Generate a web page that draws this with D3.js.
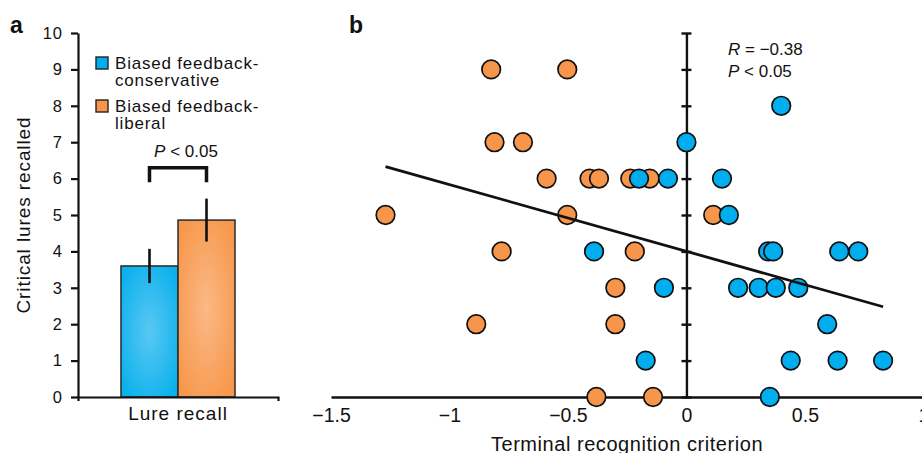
<!DOCTYPE html>
<html>
<head>
<meta charset="utf-8">
<script src="https://cdn.jsdelivr.net/npm/d3@7"></script>
<style>
  body { margin: 0; background: #fff; }
  svg { display: block; font-family: "Liberation Sans", Arial, sans-serif; }
  text { fill: #111; }
</style>
</head>
<body>
<div id="main-content"></div>
<script>
// panel a: bar chart
const barCats = ["Lure recall"];
const barGroups = ["Biased feedback-conservative", "Biased feedback-liberal"];
const barMeans = [3.6, 4.86];
const barSem = [0.47, 0.59];

// panel b: scatter, terminal criterion vs lures recalled
const consX = [-0.2, -0.078, 0.15, 0.0, 0.40, 0.179, -0.39, 0.345, 0.366, 0.645, 0.725,
  -0.095, 0.218, 0.305, 0.377, 0.472, 0.594, -0.172, 0.44, 0.638, 0.83, 0.352];
const consY = [6, 6, 6, 7, 8, 5, 4, 4, 4, 4, 4, 3, 3, 3, 3, 3, 2, 1, 1, 1, 1, 0];
const libX = [-0.824, -0.503, -0.81, -0.69, -0.59, -0.409, -0.369, -0.237, -0.155, -1.27,
  -0.503, 0.113, -0.78, -0.218, -0.30, -0.887, -0.30, -0.38, -0.141];
const libY = [9, 9, 7, 7, 6, 6, 6, 6, 6, 5, 5, 5, 4, 4, 3, 2, 2, 0, 0];
const fitX = [-1.27, 0.83];
const fitY = [6.33, 2.48];
const xTicks = [-1.5, -1, -0.5, 0, 0.5, 1];

const width = 922, height = 453;
const blue = "#00aeef", orange = "#f7964a";

const svg = d3.select("#main-content").append("svg")
  .attr("width", width)
  .attr("height", height);

const defs = svg.append("defs");
function radial(id, inner, outer) {
  const g = defs.append("radialGradient").attr("id", id)
    .attr("cx", 0.5).attr("cy", 0.5).attr("r", 0.62);
  g.append("stop").attr("offset", "0%").attr("stop-color", inner);
  g.append("stop").attr("offset", "100%").attr("stop-color", outer);
}
radial("gBlue", "#5ac8f3", "#0bb1ec");
radial("gOrange", "#fab986", "#f7974b");

const y = d3.scaleLinear().domain([0, 10]).range([397, 33]);

// ---------- panel a ----------
const x0 = d3.scaleBand().domain(barCats).range([78, 278]).paddingOuter(0.377);
const x1 = d3.scaleBand().domain(barGroups).range([0, x0.bandwidth()]);
const fills = ["url(#gBlue)", "url(#gOrange)"];
const swatch = [blue, orange];

const pa = svg.append("g");

const bars = barGroups.map((g, i) => ({ g, mean: barMeans[i], sem: barSem[i], i }));

pa.selectAll("rect.bar").data(bars).enter().append("rect")
  .attr("class", "bar")
  .attr("x", d => x0(barCats[0]) + x1(d.g))
  .attr("width", x1.bandwidth())
  .attr("y", d => y(d.mean))
  .attr("height", d => y(0) - y(d.mean))
  .attr("fill", d => fills[d.i])
  .attr("stroke", "#2a2a2a")
  .attr("stroke-width", 1.5);

pa.selectAll("line.err").data(bars).enter().append("line")
  .attr("class", "err")
  .attr("x1", d => x0(barCats[0]) + x1(d.g) + x1.bandwidth() / 2)
  .attr("x2", d => x0(barCats[0]) + x1(d.g) + x1.bandwidth() / 2)
  .attr("y1", d => y(d.mean - d.sem))
  .attr("y2", d => y(d.mean + d.sem))
  .attr("stroke", "#111")
  .attr("stroke-width", 2.6);

// significance bracket
const bx1 = x0(barCats[0]) + x1(barGroups[0]) + x1.bandwidth() / 2;
const bx2 = x0(barCats[0]) + x1(barGroups[1]) + x1.bandwidth() / 2;
pa.append("path")
  .attr("d", `M${bx1},${y(5.9)}V${y(6.3)}H${bx2}V${y(5.9)}`)
  .attr("fill", "none")
  .attr("stroke", "#111")
  .attr("stroke-width", 3.5);
const sig = pa.append("text")
  .attr("x", (bx1 + bx2) / 2 + 8)
  .attr("y", 157)
  .attr("text-anchor", "middle")
  .attr("font-size", 17);
sig.append("tspan").attr("font-style", "italic").text("P");
sig.append("tspan").text(" < 0.05");

// axes a
const ya = pa.append("g")
  .attr("transform", "translate(78,0)")
  .call(d3.axisLeft(y).ticks(10).tickSize(7).tickSizeOuter(0).tickPadding(8));
ya.selectAll("text").attr("font-size", 16.5).style("letter-spacing", "1px")
  .attr("font-family", "Liberation Sans, Arial, sans-serif");

const xa = pa.append("g")
  .attr("transform", "translate(0,397)")
  .call(d3.axisBottom(x0).tickSizeInner(0).tickSizeOuter(4).tickPadding(10));
xa.selectAll("text").attr("font-size", 19).style("letter-spacing", "1px")
  .attr("font-family", "Liberation Sans, Arial, sans-serif");

pa.append("text")
  .attr("transform", "translate(30,215) rotate(-90)")
  .attr("text-anchor", "middle")
  .attr("font-size", 19)
  .style("letter-spacing", "0.9px")
  .text("Critical lures recalled");

// legend
const legend = pa.selectAll("g.leg").data(barGroups).enter().append("g")
  .attr("class", "leg")
  .attr("transform", (d, i) => `translate(96,${57 + i * 43})`);
legend.append("rect")
  .attr("width", 12).attr("height", 12)
  .attr("fill", (d, i) => swatch[i])
  .attr("stroke", "#222").attr("stroke-width", 1.4);
legend.each(function(d) {
  const parts = d.split("-");
  const t = d3.select(this).append("text")
    .attr("x", 19).attr("y", 11.5)
    .attr("font-size", 17).style("letter-spacing", "0.8px");
  t.append("tspan").attr("x", 19).text(parts[0] + "-");
  t.append("tspan").attr("x", 19).attr("dy", 17).text(parts[1]);
});

pa.append("text").attr("x", 10).attr("y", 33)
  .attr("font-size", 23).attr("font-weight", "bold").text("a");

// ---------- panel b ----------
const xb = d3.scaleLinear().domain([-1.5, 1]).range([331, 923.4]);
const pb = svg.append("g");

const xAxisB = pb.append("g")
  .attr("transform", "translate(0,397)")
  .call(d3.axisBottom(xb).tickValues(xTicks).tickFormat(d3.format("")).tickSize(0).tickSizeOuter(0).tickPadding(11));
xAxisB.selectAll("text").attr("font-size", 19.5)
  .attr("font-family", "Liberation Sans, Arial, sans-serif");

const yAxisB = pb.append("g")
  .attr("transform", `translate(${xb(0)},0)`)
  .call(d3.axisRight(y).ticks(10).tickSize(5).tickSizeOuter(0).tickFormat(""));
yAxisB.selectAll(".tick line").attr("x1", -5);

pb.selectAll(".domain, .tick line").attr("stroke", "#111").attr("stroke-width", 2.4);
pa.selectAll(".domain, .tick line").attr("stroke", "#111").attr("stroke-width", 2.2);

const libPts = libX.map((v, i) => ({ x: v, y: libY[i] }));
const consPts = consX.map((v, i) => ({ x: v, y: consY[i] }));

pb.selectAll("circle.lib").data(libPts).enter().append("circle")
  .attr("class", "lib")
  .attr("cx", d => xb(d.x)).attr("cy", d => y(d.y)).attr("r", 9.3)
  .attr("fill", orange).attr("stroke", "#111").attr("stroke-width", 1.7);

pb.selectAll("circle.cons").data(consPts).enter().append("circle")
  .attr("class", "cons")
  .attr("cx", d => xb(d.x)).attr("cy", d => y(d.y)).attr("r", 9.3)
  .attr("fill", blue).attr("stroke", "#111").attr("stroke-width", 1.7);

pb.append("path")
  .datum(fitX.map((v, i) => [v, fitY[i]]))
  .attr("d", d3.line().x(d => xb(d[0])).y(d => y(d[1])))
  .attr("fill", "none")
  .attr("stroke", "#111")
  .attr("stroke-width", 2.8);

const st1 = pb.append("text").attr("x", 728).attr("y", 55).attr("font-size", 17);
st1.append("tspan").attr("font-style", "italic").text("R");
st1.append("tspan").text(" = \u22120.38");
const st2 = pb.append("text").attr("x", 728).attr("y", 77).attr("font-size", 17);
st2.append("tspan").attr("font-style", "italic").text("P");
st2.append("tspan").text(" < 0.05");

pb.append("text")
  .attr("x", 627).attr("y", 451)
  .attr("text-anchor", "middle")
  .attr("font-size", 20)
  .style("letter-spacing", "0.55px")
  .text("Terminal recognition criterion");

pb.append("text").attr("x", 349).attr("y", 33)
  .attr("font-size", 23).attr("font-weight", "bold").text("b");
</script>
</body>
</html>
